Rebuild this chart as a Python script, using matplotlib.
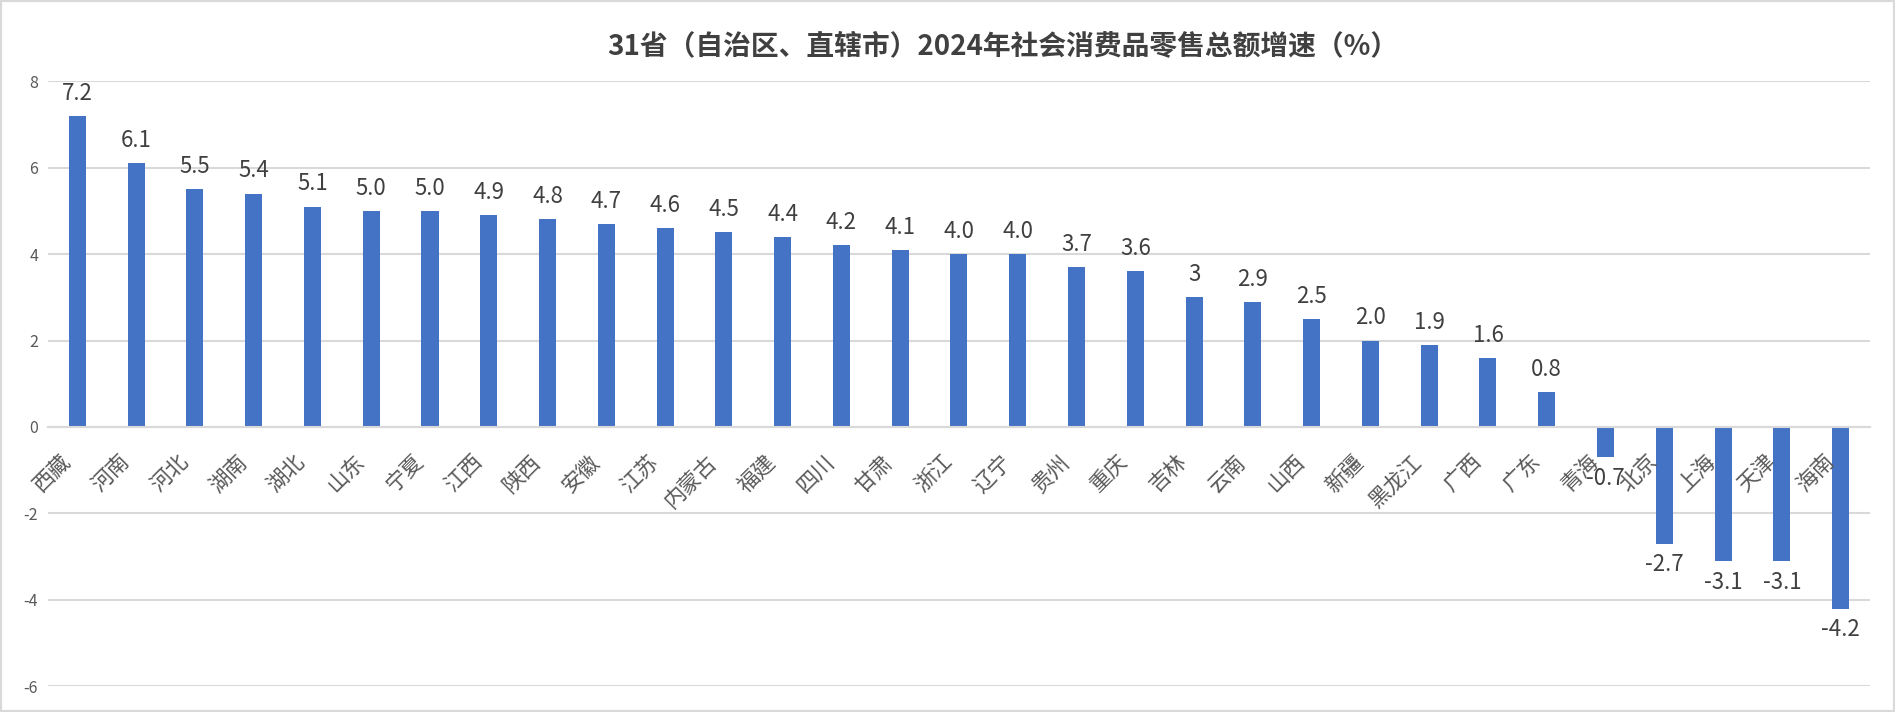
import matplotlib
matplotlib.use("Agg")
from matplotlib import pyplot as plt
from matplotlib.patches import Rectangle
from matplotlib.transforms import ScaledTranslation

plt.rcParams['font.family'] = ['Noto Sans CJK SC', 'DejaVu Sans']

provinces = ['西藏', '河南', '河北', '湖南', '湖北', '山东', '宁夏', '江西', '陕西', '安徽',
             '江苏', '内蒙古', '福建', '四川', '甘肃', '浙江', '辽宁', '贵州', '重庆', '吉林',
             '云南', '山西', '新疆', '黑龙江', '广西', '广东', '青海', '北京', '上海', '天津', '海南']
growth = [7.2, 6.1, 5.5, 5.4, 5.1, 5.0, 5.0, 4.9, 4.8, 4.7,
          4.6, 4.5, 4.4, 4.2, 4.1, 4.0, 4.0, 3.7, 3.6, 3.0,
          2.9, 2.5, 2.0, 1.9, 1.6, 0.8, -0.7, -2.7, -3.1, -3.1, -4.2]
value_labels = ['7.2', '6.1', '5.5', '5.4', '5.1', '5.0', '5.0', '4.9', '4.8', '4.7',
                '4.6', '4.5', '4.4', '4.2', '4.1', '4.0', '4.0', '3.7', '3.6', '3',
                '2.9', '2.5', '2.0', '1.9', '1.6', '0.8', '-0.7', '-2.7', '-3.1', '-3.1', '-4.2']
y_ticks = [-6, -4, -2, 0, 2, 4, 6, 8]
title = '31省（自治区、直辖市）2024年社会消费品零售总额增速（%）'

text_gray = '#595959'
grid_gray = '#d9d9d9'


def draw():
    fig = plt.figure(figsize=(18.95, 7.12), dpi=100)
    ax = fig.add_axes([0.0253, 0.036, 0.9615, 0.850])

    x = list(range(len(provinces)))
    ax.bar(x, growth, width=0.29, color='#4472C4', zorder=2)

    ax.set_xlim(-0.5, len(provinces) - 0.5)
    ax.set_ylim(-6, 8)
    ax.set_yticks(y_ticks)
    ax.set_yticklabels([str(v) for v in y_ticks], color=text_gray, fontsize=11.5)
    ax.grid(axis='y', color=grid_gray, linewidth=1.5, zorder=0)
    ax.tick_params(axis='y', length=0, pad=7)

    for s in ['top', 'right', 'left']:
        ax.spines[s].set_visible(False)
    ax.spines['bottom'].set_position(('data', 0))
    ax.spines['bottom'].set_color(grid_gray)
    ax.spines['bottom'].set_linewidth(1.5)
    ax.spines['bottom'].set_zorder(4)

    ax.set_xticks(x)
    ax.set_xticklabels(provinces, rotation=45, ha='right', va='top', rotation_mode='anchor',
                       color=text_gray, fontsize=15.5)
    ax.tick_params(axis='x', length=0, pad=17)
    ax.xaxis.set_zorder(5)
    # nudge the slanted names left, like Excel does
    shift = ScaledTranslation(-0.18, 0, fig.dpi_scale_trans)
    for lbl in ax.get_xticklabels():
        lbl.set_transform(lbl.get_transform() + shift)

    for xi, v, lab in zip(x, growth, value_labels):
        if v >= 0:
            ax.annotate(lab, (xi, v), xytext=(0, 8), textcoords='offset points',
                        ha='center', va='bottom', fontsize=16, color='#404040', zorder=6)
        else:
            ax.annotate(lab, (xi, v), xytext=(0, -7), textcoords='offset points',
                        ha='center', va='top', fontsize=16, color='#404040', zorder=6)

    fig.text(0.529, 0.935, title, ha='center', va='center', fontsize=20,
             fontweight='bold', color='#404040')

    fig.patches.append(Rectangle((0, 0), 1, 1, transform=fig.transFigure, fill=False,
                                 edgecolor=grid_gray, linewidth=3))
    fig.savefig('out.png', dpi=100)


if __name__ == "__main__":
    draw()
